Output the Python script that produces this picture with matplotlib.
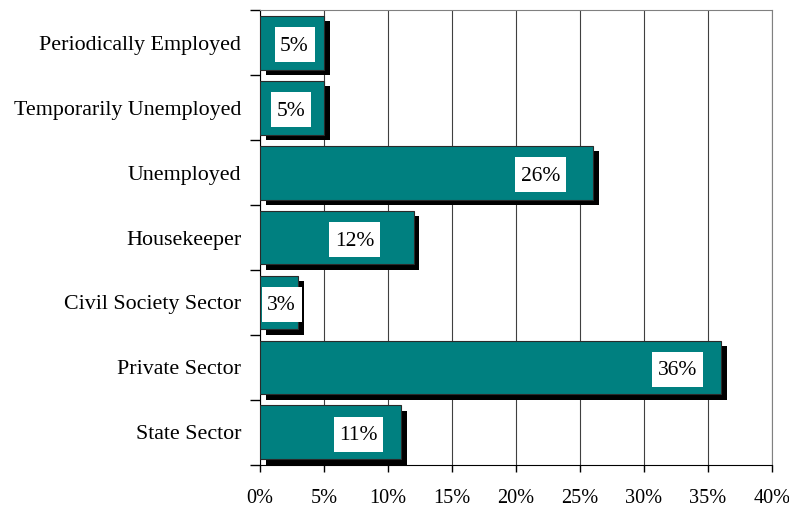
import matplotlib.pyplot as plt
import matplotlib.patheffects as pe
import numpy as np
from matplotlib.path import Path
from matplotlib.ticker import FuncFormatter, FixedLocator

plt.rcParams['font.family'] = ['Liberation Serif', 'DejaVu Serif']

categories = ["State Sector", "Private Sector", "Civil Society Sector", "Housekeeper",
              "Unemployed", "Temporarily Unemployed", "Periodically Employed"]
shares = [11, 36, 3, 12, 26, 5, 5]
label_x = [7.7, 32.6, 1.7, 7.4, 21.9, 2.4, 2.7]


def tall_box(x0, y0, width, height, mutation_size):
    # white label box: a little padding sideways, more above and below
    px = 0.26 * mutation_size
    top, bottom = 0.44 * mutation_size, 0.32 * mutation_size
    x0, y0 = x0 - px, y0 - bottom
    x1, y1 = x0 + width + 2 * px, y0 + height + bottom + top
    return Path([(x0, y0), (x1, y0), (x1, y1), (x0, y1), (x0, y0)],
                [Path.MOVETO, Path.LINETO, Path.LINETO, Path.LINETO, Path.CLOSEPOLY])


fig = plt.figure(figsize=(7.89, 5.07), dpi=100)
ax = fig.add_axes([0.3295, 0.083, 0.649, 0.897])

y = np.arange(len(categories))
bars = ax.barh(y, shares, height=0.83, color='#008080', edgecolor='#2a2a2a',
               linewidth=0.8, zorder=3)
for b in bars:
    b.set_path_effects([pe.SimplePatchShadow(offset=(4.2, -4.2), shadow_rgbFace='black', alpha=1),
                        pe.Normal()])

for yi, v, lx in zip(y, shares, label_x):
    ax.annotate(f"{v}%", (lx, yi), xytext=(0, -2.5), textcoords='offset points',
                ha='center', va='center', fontsize=15.5, zorder=5,
                bbox=dict(boxstyle=tall_box, facecolor='white', edgecolor='none'))

ax.set_xlim(0, 40)
ax.set_ylim(-0.5, len(categories) - 0.5)
ax.set_xticks(np.arange(0, 41, 5))
ax.xaxis.set_major_formatter(FuncFormatter(lambda v, p: f"{int(v)}%"))
ax.grid(axis='x', color='#404040', linewidth=0.8, zorder=0)

ax.set_yticks(y)
ax.set_yticklabels(categories)
ax.yaxis.set_minor_locator(FixedLocator(np.arange(-0.5, len(categories), 1)))
ax.tick_params(axis='y', which='major', length=0, pad=13.5, labelsize=15.8)
ax.tick_params(axis='y', which='minor', length=7, width=1, color='black')
ax.tick_params(axis='x', length=5, width=1, labelsize=14.6, pad=12)

for s in ['top', 'right']:
    ax.spines[s].set_color('#808080')
for s in ['left', 'bottom']:
    ax.spines[s].set_color('black')

fig.savefig('out.png', dpi=100)
